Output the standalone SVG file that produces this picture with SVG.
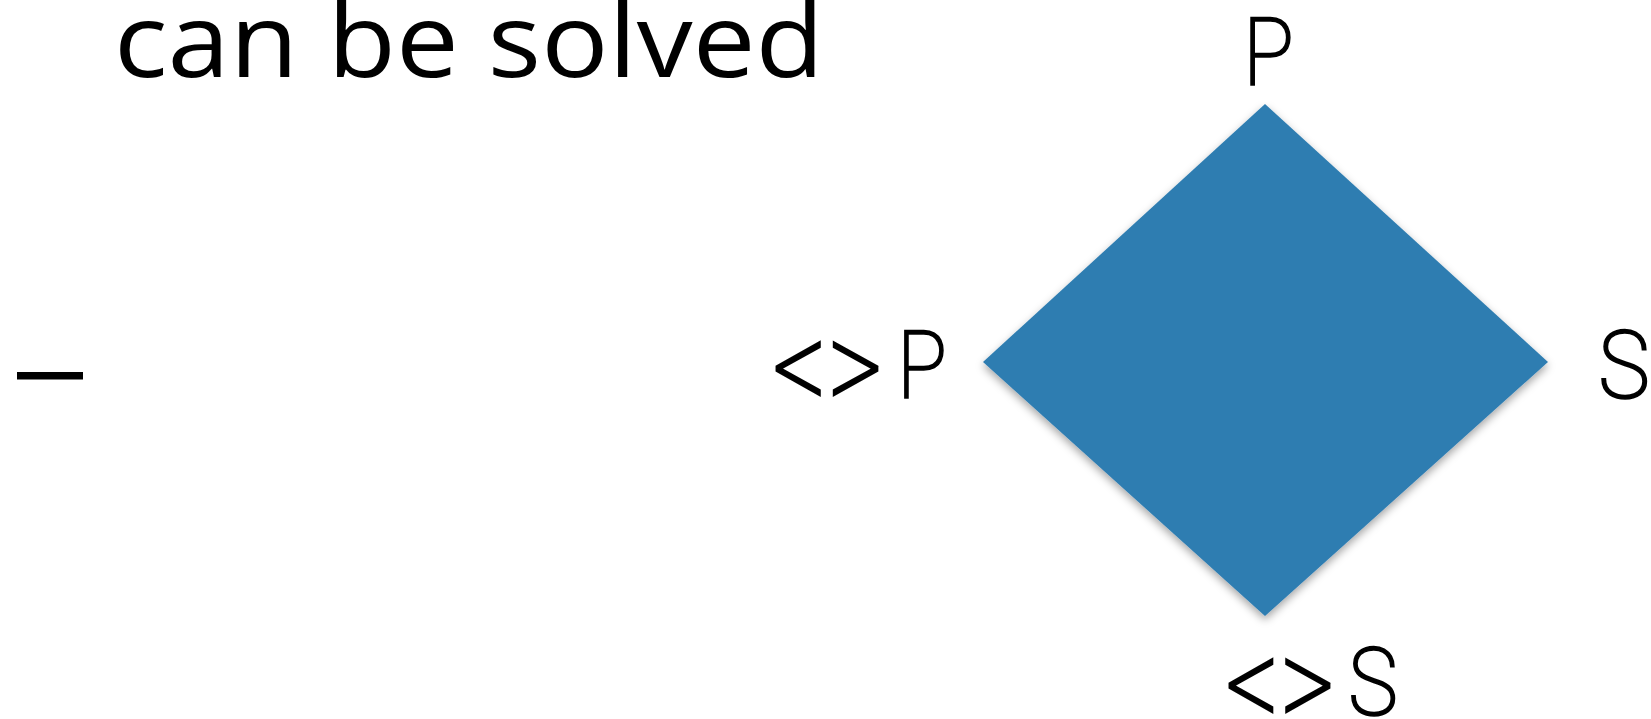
<svg xmlns="http://www.w3.org/2000/svg" width="1651" height="719" viewBox="0 0 1651 719">
  <style>
    .title { font-family: "Open Sans", "Noto Sans", sans-serif; font-size: 102px; fill: #000; }
    .lbl { font-family: "DejaVu Sans ExtraLight", Roboto, "Liberation Sans", sans-serif; font-weight: 200; font-size: 95px; fill: #000; stroke: #000; stroke-width: 1.6px; }
    .chev { font-size: 112px; stroke-width: 1.4px; }
  </style>
  <defs>
    <filter id="shadow" x="-20%" y="-20%" width="140%" height="140%">
      <feDropShadow dx="0" dy="4" stdDeviation="4" flood-color="#000" flood-opacity="0.35"/>
    </filter>
  </defs>
  <rect width="1651" height="719" fill="#ffffff"/>
  <g id="title">
    <text class="title" x="114" y="77" textLength="710" lengthAdjust="spacingAndGlyphs">can be solved</text>
  </g>
  <g id="dash">
    <rect x="17" y="372" width="66" height="7.5" fill="#000"/>
  </g>
  <g id="diamond">
    <polygon points="1265,104 1548,362 1265,616 983,362" fill="#2f7db1" filter="url(#shadow)"/>
  </g>
  <g id="label-P">
    <text class="lbl" x="1243" y="85" textLength="51" lengthAdjust="spacingAndGlyphs">P</text>
  </g>
  <g id="label-notP">
    <text class="lbl chev" transform="translate(772,412) scale(1,1.2)" x="0" y="0" textLength="111" lengthAdjust="spacingAndGlyphs">&lt;&gt;</text>
    <text class="lbl" x="897" y="398" textLength="50" lengthAdjust="spacingAndGlyphs">P</text>
  </g>
  <g id="label-S">
    <text class="lbl" x="1598" y="398" textLength="52" lengthAdjust="spacingAndGlyphs">S</text>
  </g>
  <g id="label-notS">
    <text class="lbl chev" transform="translate(1225,729) scale(1,1.2)" x="0" y="0" textLength="110" lengthAdjust="spacingAndGlyphs">&lt;&gt;</text>
    <text class="lbl" x="1348" y="715" textLength="50" lengthAdjust="spacingAndGlyphs">S</text>
  </g>
  <g id="connectors"></g>
</svg>
